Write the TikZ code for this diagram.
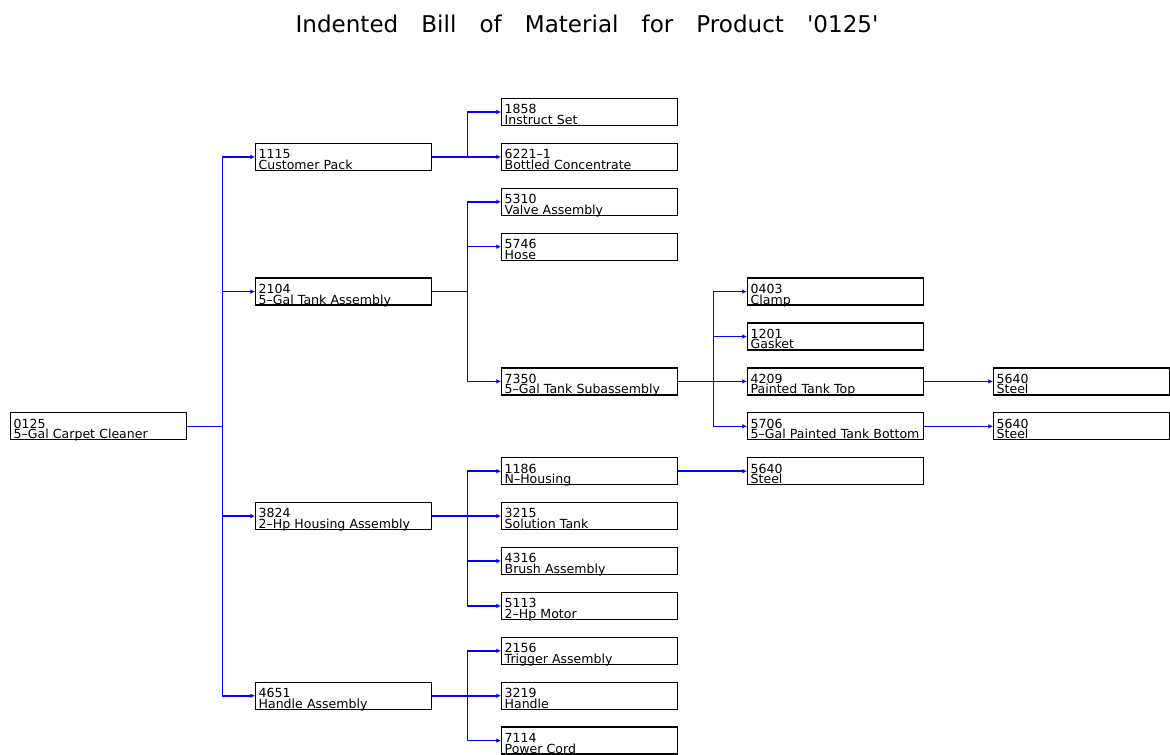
\documentclass[tikz,border=0pt]{standalone}
\usepackage{fontspec}
\setmainfont{DejaVu Sans}
\usepackage{tikz}
\usetikzlibrary{arrows.meta}

\tikzset{
  item/.style = {draw, line width=1pt, rectangle, anchor=west, inner sep=0pt, inner xsep=2.25pt,
    minimum width=132pt, minimum height=20.25pt, text width=127.5pt, align=left,
    text height=11.5pt, text depth=8.75pt, font=\fontsize{9.4}{8}\selectfont},
  link/.style = {draw=blue, line width=1.2pt, -{Latex[length=3.5pt,width=3.5pt]}}
}

\begin{document}
\begin{tikzpicture}[x=0.75pt, y=-0.75pt]
    \useasboundingbox (0,0) rectangle (1170,755);
    \node[anchor=base, font=\fontsize{17.3}{20}\selectfont] (title) at (587,33)
        {\spaceskip=1em Indented Bill of Material for Product \textquotesingle0125\textquotesingle};
    % root
    \node[item] (p0125) at (10,426.3) {0125\\5--Gal Carpet Cleaner};
    % level 1
    \node[item] (p1115) at (255,156.9) {1115\\Customer Pack};
    \node[item] (p2104) at (255,291.6) {2104\\5--Gal Tank Assembly};
    \node[item] (p3824) at (255,516.1) {3824\\2--Hp Housing Assembly};
    \node[item] (p4651) at (255,695.7) {4651\\Handle Assembly};
    % level 2
    \node[item] (p1858) at (501,112.0) {1858\\Instruct Set};
    \node[item] (p6221) at (501,156.9) {6221--1\\Bottled Concentrate};
    \node[item] (p5310) at (501,201.8) {5310\\Valve Assembly};
    \node[item] (p5746) at (501,246.7) {5746\\Hose};
    \node[item] (p7350) at (501,381.4) {7350\\5--Gal Tank Subassembly};
    \node[item] (p1186) at (501,471.2) {1186\\N--Housing};
    \node[item] (p3215) at (501,516.1) {3215\\Solution Tank};
    \node[item] (p4316) at (501,561.0) {4316\\Brush Assembly};
    \node[item] (p5113) at (501,605.9) {5113\\2--Hp Motor};
    \node[item] (p2156) at (501,650.8) {2156\\Trigger Assembly};
    \node[item] (p3219) at (501,695.7) {3219\\Handle};
    \node[item] (p7114) at (501,740.6) {7114\\Power Cord};
    % level 3
    \node[item] (p0403) at (747,291.6) {0403\\Clamp};
    \node[item] (p1201) at (747,336.5) {1201\\Gasket};
    \node[item] (p4209) at (747,381.4) {4209\\Painted Tank Top};
    \node[item] (p5706) at (747,426.3) {5706\\5--Gal Painted Tank Bottom};
    \node[item] (p5640c) at (747,471.2) {5640\\Steel};
    % level 4
    \node[item] (p5640a) at (993,381.4) {5640\\Steel};
    \node[item] (p5640b) at (993,426.3) {5640\\Steel};
    % connectors
    \foreach \p/\c in {p0125/p1115, p0125/p2104, p0125/p3824, p0125/p4651,
                       p1115/p1858, p1115/p6221,
                       p2104/p5310, p2104/p5746, p2104/p7350,
                       p3824/p1186, p3824/p3215, p3824/p4316, p3824/p5113,
                       p4651/p2156, p4651/p3219, p4651/p7114,
                       p7350/p0403, p7350/p1201, p7350/p4209, p7350/p5706,
                       p1186/p5640c, p4209/p5640a, p5706/p5640b}
        \draw[link] (\p.east) -- ++(35,0) |- (\c.west);
\end{tikzpicture}
\end{document}
